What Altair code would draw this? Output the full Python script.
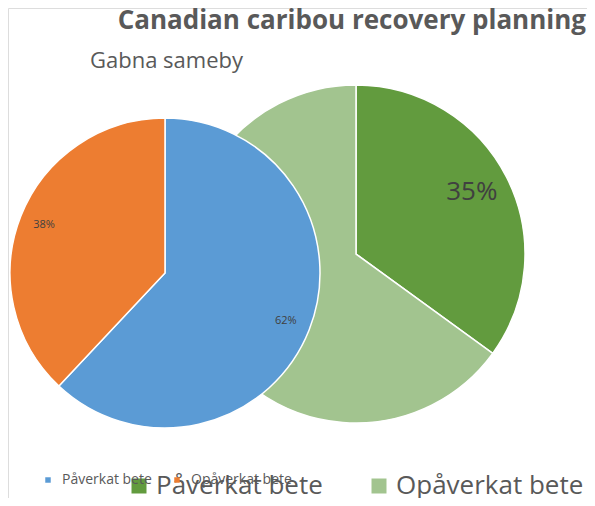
import altair as alt
import pandas as pd

categories = ["Påverkat bete", "Opåverkat bete"]
gabna_values = [62, 38]
canada_values = [35, 65]
gabna_colors = ["#5B9BD5", "#ED7D31"]
canada_colors = ["#629B3E", "#A2C48F"]
main_title = "Canadian caribou recovery planning"
sub_title = "Gabna sameby"


def frame(values):
    return pd.DataFrame({
        "cat": categories,
        "value": values,
        "idx": list(range(len(values))),
        "label": [f"{v}%" for v in values],
    })


small = frame(gabna_values)
big = frame(canada_values)

BIG_C = (348, 246)
SMALL_C = (157, 265)
FONT = "Open Sans"

big_legend = alt.Legend(
    title=None, orient="none", legendX=118, legendY=465, direction="horizontal",
    symbolType="square", symbolSize=225, symbolStrokeWidth=0, labelFontSize=26,
    labelFont=FONT, labelColor="#595959", labelOffset=4, columnPadding=43, padding=0,
    labelLimit=400,
)
small_legend = alt.Legend(
    title=None, orient="none", legendX=33, legendY=465, direction="horizontal",
    symbolType="square", symbolSize=30, symbolStrokeWidth=0, labelFontSize=14,
    labelFont=FONT, labelColor="#595959", labelOffset=7, columnPadding=18, padding=0,
    labelLimit=400,
)

big_arc = alt.Chart(big).mark_arc(outerRadius=169, stroke="white", strokeWidth=1.5).encode(
    theta=alt.Theta("value:Q", stack=True),
    order=alt.Order("idx:Q"),
    color=alt.Color("cat:N", scale=alt.Scale(domain=categories, range=canada_colors), legend=big_legend),
    x=alt.value(BIG_C[0]), y=alt.value(BIG_C[1]),
)
small_arc = alt.Chart(small).mark_arc(outerRadius=155, stroke="white", strokeWidth=1.5).encode(
    theta=alt.Theta("value:Q", stack=True),
    order=alt.Order("idx:Q"),
    color=alt.Color("cat:N", scale=alt.Scale(domain=categories, range=gabna_colors), legend=small_legend),
    x=alt.value(SMALL_C[0]), y=alt.value(SMALL_C[1]),
)
big_text = alt.Chart(big).mark_text(
    radius=130, fontSize=26, font=FONT, color="#404040"
).encode(
    theta=alt.Theta("value:Q", stack=True),
    order=alt.Order("idx:Q"),
    text="label:N",
    opacity=alt.condition(alt.datum.idx == 0, alt.value(1), alt.value(0)),
    x=alt.value(BIG_C[0]), y=alt.value(BIG_C[1] - 3),
)
small_text = alt.Chart(small).mark_text(
    radius=130, fontSize=11, font=FONT, color="#404040"
).encode(
    theta=alt.Theta("value:Q", stack=True),
    order=alt.Order("idx:Q"),
    text="label:N",
    x=alt.value(SMALL_C[0]), y=alt.value(SMALL_C[1]),
)

titles = alt.Chart(pd.DataFrame({"t": [main_title]})).mark_text(
    font=FONT, fontSize=26, fontWeight="bold", color="#595959", align="right", baseline="alphabetic"
).encode(text="t:N", x=alt.value(578), y=alt.value(21))
subtitle = alt.Chart(pd.DataFrame({"t": [sub_title]})).mark_text(
    font=FONT, fontSize=22, color="#595959", align="left", baseline="alphabetic"
).encode(text="t:N", x=alt.value(82), y=alt.value(60))

chart = alt.layer(big_arc, small_arc, big_text, small_text, titles, subtitle).resolve_scale(
    theta="independent", color="independent"
).properties(
    width=579, height=490, autosize=alt.AutoSizeParams(type="none"), padding=0
).configure_view(stroke="transparent", strokeWidth=0).configure_axis(
    domain=False, ticks=False, labels=False, grid=False
).configure(background="white")

chart.save("out.html", embed_options={"renderer": "svg", "actions": False})
